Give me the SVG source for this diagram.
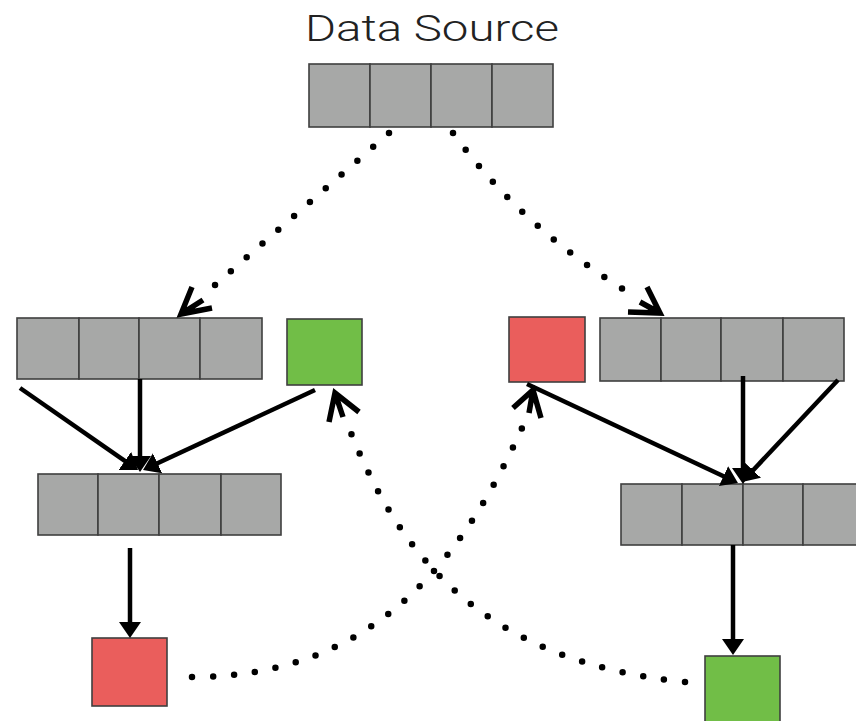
<svg xmlns="http://www.w3.org/2000/svg" width="856" height="721" viewBox="0 0 856 721">
<style>
.cell{fill:#a7a8a7;stroke:#3f3f3f;stroke-width:1.6}
.red{fill:#ea5e5c;stroke:#3f3f3f;stroke-width:1.6}
.green{fill:#71be47;stroke:#3f3f3f;stroke-width:1.6}
.solid{stroke:#000;stroke-width:4.5;fill:none;marker-end:url(#tri)}
.dots{stroke:#000;stroke-width:6.5;fill:none;stroke-linecap:round;stroke-dasharray:0 21}
.chev{stroke:#000;stroke-width:5.5;fill:none;stroke-linejoin:miter}
.title{font-family:Roboto,"Liberation Sans",Arial,sans-serif;font-weight:300;font-size:37px;fill:#222}
</style>
<defs>
<marker id="tri" markerUnits="userSpaceOnUse" viewBox="0 0 16 22" refX="6" refY="11" markerWidth="16" markerHeight="22" orient="auto">
<path d="M0,0 L16,11 L0,22 z" fill="#000"/>
</marker>
</defs>
<rect width="856" height="721" fill="#fff"/>
<g id="source">
<text class="title" x="305" y="41" textLength="254" lengthAdjust="spacingAndGlyphs">Data Source</text>
<rect class="cell" x="309" y="64" width="61" height="63"/>
<rect class="cell" x="370" y="64" width="61" height="63"/>
<rect class="cell" x="431" y="64" width="61" height="63"/>
<rect class="cell" x="492" y="64" width="61" height="63"/>
</g>
<g id="left-array">
<rect class="cell" x="17" y="318" width="62" height="61"/>
<rect class="cell" x="79" y="318" width="60" height="61"/>
<rect class="cell" x="139" y="318" width="61" height="61"/>
<rect class="cell" x="200" y="318" width="62" height="61"/>
</g>
<g id="left-green"><rect class="green" x="287" y="319" width="75" height="66"/></g>
<g id="left-array2">
<rect class="cell" x="38" y="474" width="60" height="61"/>
<rect class="cell" x="98" y="474" width="61" height="61"/>
<rect class="cell" x="159" y="474" width="62" height="61"/>
<rect class="cell" x="221" y="474" width="60" height="61"/>
</g>
<g id="left-red"><rect class="red" x="92" y="638" width="75" height="68"/></g>
<g id="right-red"><rect class="red" x="509" y="317" width="76" height="65"/></g>
<g id="right-array">
<rect class="cell" x="600" y="318" width="61" height="63"/>
<rect class="cell" x="661" y="318" width="60" height="63"/>
<rect class="cell" x="721" y="318" width="62" height="63"/>
<rect class="cell" x="783" y="318" width="61" height="63"/>
</g>
<g id="right-array2">
<rect class="cell" x="621" y="484" width="61" height="61"/>
<rect class="cell" x="682" y="484" width="61" height="61"/>
<rect class="cell" x="743" y="484" width="60" height="61"/>
<rect class="cell" x="803" y="484" width="61" height="61"/>
</g>
<g id="right-green"><rect class="green" x="705" y="656" width="75" height="68"/></g>
<g id="connectors">
<path class="dots" d="M389,133 L215,285"/>
<path class="chev" d="M192,287 L181,314 L212,308 M181,314 L203,300"/>
<path class="dots" d="M453,133 Q520,225 623,289"/>
<path class="chev" d="M647,287 L660,313 L628,312 M660,313 L640,302"/>
<path class="dots" d="M192,677 C364,677 456,574 522,428"/>
<path class="chev" d="M513,408 L533,390 L541,418 M533,390 L529,413"/>
<path class="dots" d="M685,682 C486,662 401,558 351,433"/>
<path class="chev" d="M329,422 L335,393 L359,412 M335,393 L343,417"/>
<path class="solid" d="M20,388 L129.8,464.3"/>
<path class="solid" d="M140,379 L140,462"/>
<path class="solid" d="M315,390 L152.1,465.8"/>
<path class="solid" d="M130,548 L130,628"/>
<path class="solid" d="M527,384 L728.9,478.7"/>
<path class="solid" d="M743,376 L743,474"/>
<path class="solid" d="M838,380 L748.9,474.7"/>
<path class="solid" d="M733,545 L733,645"/>
</g>
</svg>
